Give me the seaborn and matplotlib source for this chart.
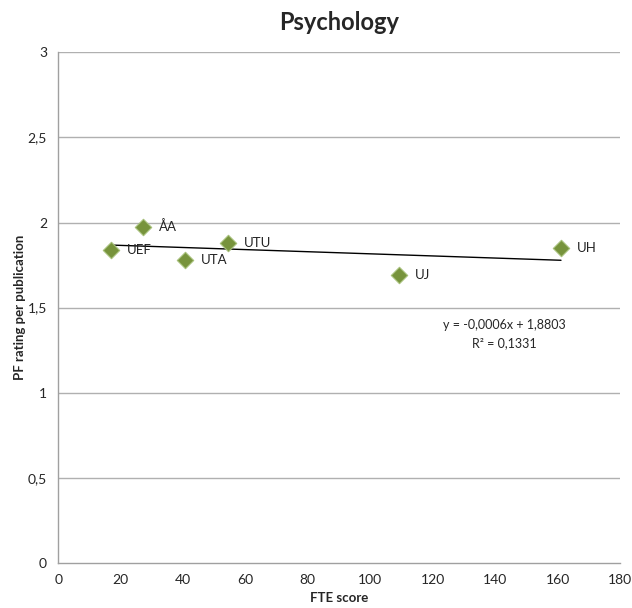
import numpy as np
import pandas as pd
import matplotlib.pyplot as plt
import seaborn as sns

# data
labels = ['UEF', 'ÅA', 'UTA', 'UTU', 'UJ', 'UH']
fte = [17.0, 27.2, 40.7, 54.5, 109.2, 161.1]
pf_rating = [1.84, 1.975, 1.78, 1.88, 1.69, 1.85]
x_ticks = [0, 20, 40, 60, 80, 100, 120, 140, 160, 180]
y_ticks = [0, 0.5, 1, 1.5, 2, 2.5, 3]
y_ticklabels = ['0', '0,5', '1', '1,5', '2', '2,5', '3']

df = pd.DataFrame({'label': labels, 'fte': fte, 'pf': pf_rating})

sns.set_style('white')
plt.rcParams['font.family'] = ['Lato', 'DejaVu Sans']

fig = plt.figure(figsize=(6.32, 6.08), dpi=100)
ax = fig.add_axes([0.092, 0.074, 0.889, 0.84])

# grid lines
for yt in y_ticks[1:]:
    ax.axhline(yt, color='#b0b0b0', linewidth=1, zorder=0)

# trend line (linear fit)
sns.regplot(data=df, x='fte', y='pf', scatter=False, ci=None, truncate=True,
            color='black', line_kws={'linewidth': 1}, ax=ax)

sns.scatterplot(data=df, x='fte', y='pf', marker='D', s=70, color='#77933c',
                edgecolor='#a6c07a', linewidth=0.8, zorder=5, ax=ax)

for lab, xv, yv in zip(labels, fte, pf_rating):
    ax.text(xv + 5, yv, lab, fontsize=9.5, va='center', ha='left', color='#222222')

ax.text(143, 1.40, 'y = -0,0006x + 1,8803', fontsize=9, ha='center', va='center')
ax.text(143, 1.29, 'R² = 0,1331', fontsize=9, ha='center', va='center')

ax.set_xlim(0, 180)
ax.set_ylim(0, 3)
ax.set_xticks(x_ticks)
ax.set_yticks(y_ticks)
ax.set_yticklabels(y_ticklabels)
ax.tick_params(axis='both', labelsize=10, length=0, pad=8)

for s in ['top', 'right']:
    ax.spines[s].set_visible(False)
for s in ['left', 'bottom']:
    ax.spines[s].set_color('#a0a0a0')
    ax.spines[s].set_linewidth(1)

ax.set_xlabel('FTE score', fontsize=9.5, fontweight='bold', labelpad=4)
ax.set_ylabel('PF rating per publication', fontsize=9.5, fontweight='bold')
ax.yaxis.set_label_coords(-0.058, 0.5)
ax.set_title('Psychology', fontsize=17, fontweight='bold', pad=16)

fig.savefig('out.png', dpi=100)
